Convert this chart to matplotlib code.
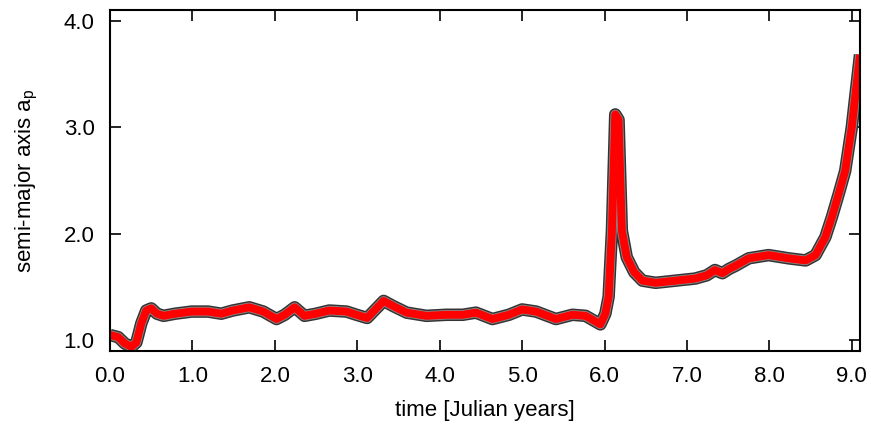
import numpy as np
import matplotlib.pyplot as plt

plt.rcParams['font.family'] = ['Liberation Sans', 'DejaVu Sans']

# semi-major axis of the planet vs time
t = [0.00, 0.10, 0.18, 0.26, 0.32, 0.38, 0.44, 0.50, 0.57, 0.65, 0.79, 0.99,
     1.19, 1.35, 1.49, 1.69, 1.86, 2.02, 2.12, 2.24, 2.36, 2.50, 2.66, 2.87,
     2.99, 3.12, 3.32, 3.44, 3.60, 3.84, 4.08, 4.28, 4.44, 4.64, 4.84, 5.00,
     5.17, 5.41, 5.61, 5.77, 5.95, 6.01, 6.05, 6.09, 6.13, 6.17, 6.21, 6.27,
     6.36, 6.46, 6.62, 6.86, 7.10, 7.24, 7.34, 7.43, 7.51, 7.59, 7.75, 7.99,
     8.23, 8.44, 8.56, 8.68, 8.76, 8.84, 8.92, 9.00, 9.10]
a_p = [1.05, 1.03, 0.97, 0.94, 0.98, 1.16, 1.28, 1.30, 1.25, 1.23, 1.25, 1.27,
       1.27, 1.25, 1.28, 1.31, 1.27, 1.20, 1.24, 1.31, 1.23, 1.25, 1.28, 1.27,
       1.24, 1.21, 1.37, 1.32, 1.26, 1.23, 1.24, 1.24, 1.26, 1.20, 1.24, 1.29,
       1.27, 1.20, 1.24, 1.23, 1.15, 1.25, 1.41, 2.03, 3.12, 3.07, 2.03, 1.78,
       1.64, 1.56, 1.54, 1.56, 1.58, 1.61, 1.66, 1.63, 1.67, 1.70, 1.77, 1.80,
       1.77, 1.75, 1.80, 1.97, 2.16, 2.37, 2.59, 3.00, 3.68]

xticks = np.arange(0, 9.5, 1.0)
yticks = [1.0, 2.0, 3.0, 4.0]

fig = plt.figure(figsize=(8.71, 4.29), dpi=100)
ax = fig.add_axes([0.1263, 0.1818, 0.8611, 0.7949])

ax.plot(t, a_p, color='#333333', lw=9.0, solid_capstyle='butt', solid_joinstyle='round')
ax.plot(t, a_p, color='#8a8a8a', lw=6.9, solid_capstyle='butt', solid_joinstyle='round')
ax.plot(t, a_p, color='#ff0000', lw=5.7, solid_capstyle='butt', solid_joinstyle='round')

ax.set_xlim(0, 9.1)
ax.set_ylim(0.9, 4.1)
ax.set_xticks(xticks)
ax.set_xticklabels(['%.1f' % v for v in xticks])
ax.set_yticks(yticks)
ax.set_yticklabels(['%.1f' % v for v in yticks])
ax.tick_params(direction='in', length=8, width=1.2, top=True, right=True,
               labelsize=16, pad=11)
for s in ax.spines.values():
    s.set_linewidth(1.5)

ax.set_xlabel('time [Julian years]', fontsize=16, labelpad=9)
ax.set_ylabel(r'semi-major axis a$_\mathregular{p}$', fontsize=16, labelpad=17)

fig.savefig('out.png', dpi=100)
